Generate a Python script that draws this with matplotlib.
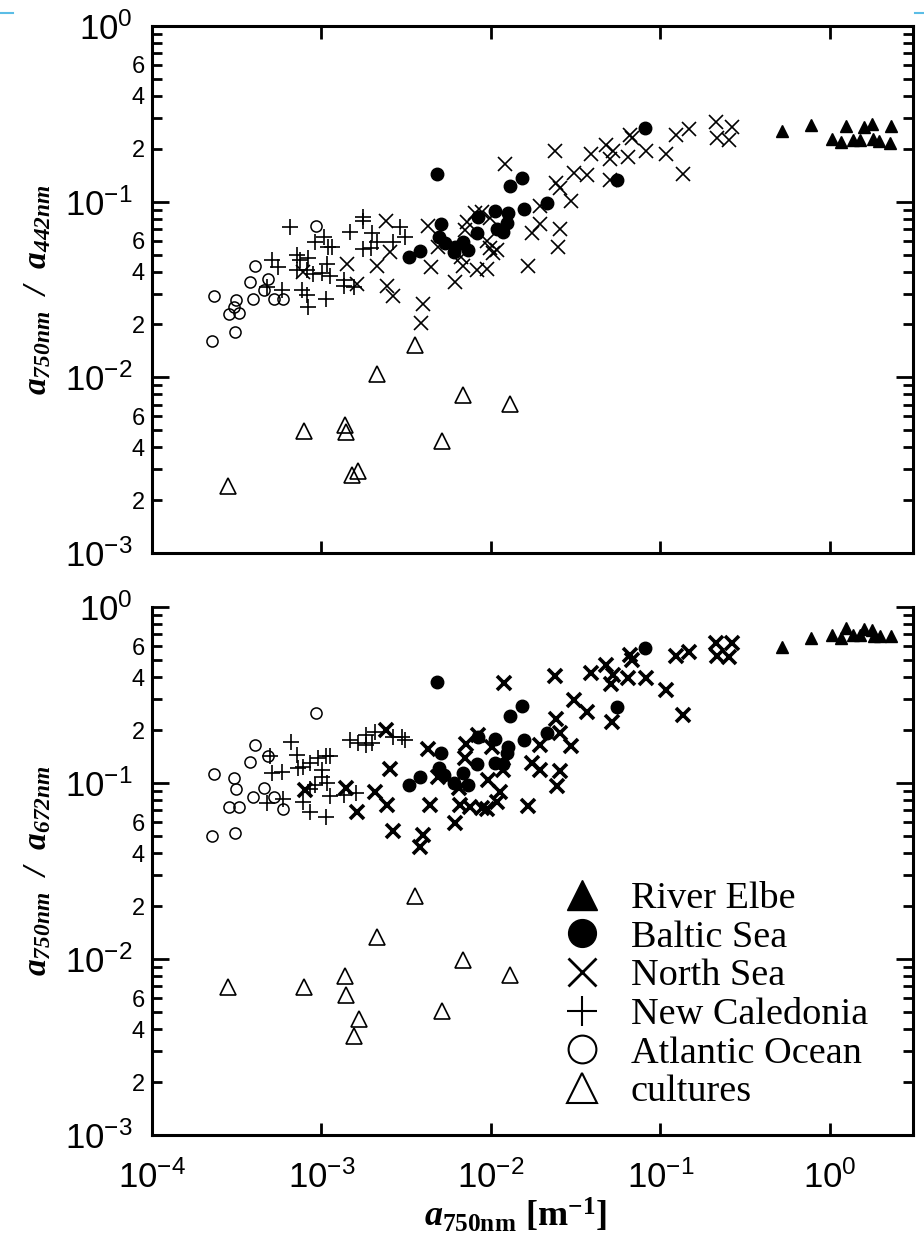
import matplotlib
matplotlib.use('Agg')
import matplotlib.pyplot as plt
from matplotlib.ticker import FixedLocator, FuncFormatter, NullLocator
from matplotlib.lines import Line2D
import numpy as np

plt.rcParams['mathtext.fontset'] = 'custom'
plt.rcParams['mathtext.it'] = 'Liberation Serif:italic:bold'
plt.rcParams['mathtext.rm'] = 'Liberation Serif:bold'
plt.rcParams['mathtext.bf'] = 'Liberation Serif:bold'
plt.rcParams['font.family'] = ['Liberation Sans', 'DejaVu Sans']

# ---------------- data ----------------
labels = ['River Elbe', 'Baltic Sea', 'North Sea', 'New Caledonia', 'Atlantic Ocean', 'cultures']

# top panel: a750/a442
elbe_x_top = [0.52, 0.78, 1.24, 1.59, 1.77, 2.29, 1.03, 1.16, 1.37, 1.50, 1.79, 1.95, 2.26]
elbe_y_top = [0.253, 0.274, 0.270, 0.265, 0.277, 0.270, 0.228, 0.219, 0.225, 0.225, 0.228, 0.222, 0.216]

baltic_x_top = [4.83e-3, 1.29e-2, 1.52e-2, 1.57e-2, 2.14e-2, 1.06e-2, 1.26e-2, 8.44e-3, 1.24e-2, 5.10e-3,
                1.08e-2, 1.18e-2, 8.32e-3, 4.97e-3, 5.39e-3, 6.18e-3, 6.88e-3, 7.36e-3, 6.09e-3, 3.84e-3,
                3.30e-3, 8.1e-2, 5.54e-2]
baltic_y_top = [0.144, 0.122, 0.137, 0.0912, 0.0987, 0.0889, 0.0866, 0.0822, 0.0760, 0.075,
                0.0703, 0.0676, 0.0667, 0.0633, 0.0585, 0.0555, 0.0593, 0.0534, 0.0520, 0.0527,
                0.0487, 0.263, 0.133]

north_x_top = [1.21e-2, 2.39e-2, 3.89e-2, 4.77e-2, 5.24e-2, 5.04e-2, 6.43e-2, 6.61e-2, 6.79e-2, 8.21e-2,
               0.108, 0.123, 0.148, 0.214, 0.266, 0.217, 0.255, 0.137, 3.09e-2, 3.68e-2,
               2.42e-2, 2.55e-2, 2.96e-2, 5.04e-2, 1.95e-2, 1.95e-2, 1.75e-2, 2.55e-2, 2.48e-2, 1.65e-2,
               9.53e-3, 9.93e-3, 1.08e-2, 1.03e-2, 8.91e-3, 8.11e-3, 9.93e-3, 7.27e-3, 7.08e-3, 6.88e-3,
               8.32e-3, 9.53e-3, 2.42e-3, 4.28e-3, 2.55e-3, 4.90e-3, 6.70e-3, 4.46e-3, 6.18e-3, 2.45e-3,
               2.66e-3, 4.0e-3, 3.89e-3, 1.42e-3, 2.14e-3, 1.63e-3, 7.83e-4]
north_y_top = [0.164, 0.195, 0.187, 0.211, 0.195, 0.175, 0.180, 0.240, 0.231, 0.195,
               0.187, 0.240, 0.260, 0.285, 0.267, 0.231, 0.225, 0.144, 0.146, 0.141,
               0.128, 0.120, 0.101, 0.133, 0.0949, 0.075, 0.0667, 0.0703, 0.0555, 0.0428,
               0.060, 0.0548, 0.0534, 0.0507, 0.0877, 0.0866, 0.0811, 0.0769, 0.0693, 0.0428,
               0.0406, 0.0416, 0.078, 0.0731, 0.052, 0.0555, 0.0487, 0.0422, 0.0351, 0.0333,
               0.0292, 0.0263, 0.0205, 0.0439, 0.0428, 0.0338, 0.040]

newcal_x_top = [6.56e-4, 1.03e-3, 9.22e-4, 1.10e-3, 1.16e-3, 1.48e-3, 1.77e-3, 1.77e-3, 2.0e-3, 1.75e-3,
                1.95e-3, 2.14e-3, 2.66e-3, 2.92e-3, 3.13e-3, 5.14e-4, 5.57e-4, 7.22e-4, 7.52e-4, 8.38e-4,
                8.27e-4, 7.22e-4, 8.97e-4, 1.01e-3, 1.08e-3, 1.13e-3, 1.35e-3, 1.35e-3, 1.55e-3, 4.74e-4,
                5.89e-4, 7.73e-4, 8.27e-4, 1.06e-3, 8.38e-4]
newcal_y_top = [0.0721, 0.0633, 0.0593, 0.0555, 0.0555, 0.0676, 0.0822, 0.078, 0.0667, 0.0541,
                0.0548, 0.0593, 0.0593, 0.0721, 0.0633, 0.0468, 0.0422, 0.050, 0.0468, 0.0481,
                0.0411, 0.0411, 0.0385, 0.0395, 0.0439, 0.0375, 0.0360, 0.0329, 0.0325, 0.0325,
                0.0316, 0.0316, 0.0296, 0.0281, 0.0253]

atlantic_x_top = [9.34e-4, 4.08e-4, 3.81e-4, 4.87e-4, 4.61e-4, 2.31e-4, 3.15e-4, 3.97e-4, 5.28e-4, 5.97e-4,
                  3.03e-4, 2.83e-4, 3.28e-4, 3.07e-4, 2.27e-4]
atlantic_y_top = [0.0731, 0.0433, 0.0351, 0.0365, 0.0316, 0.0289, 0.0274, 0.0278, 0.0281, 0.0278,
                  0.025, 0.0228, 0.0231, 0.018, 0.016]

cult_x_top = [2.79e-4, 7.94e-4, 1.37e-3, 1.40e-3, 1.52e-3, 1.65e-3, 2.14e-3, 3.59e-3, 5.17e-3, 6.88e-3, 1.29e-2]
cult_y_top = [2.40e-3, 4.93e-3, 5.33e-3, 4.87e-3, 2.77e-3, 2.92e-3, 1.05e-2, 1.52e-2, 4.33e-3, 7.91e-3, 7.03e-3]

# bottom panel: a750/a672
elbe_x_bot = [0.52, 0.78, 1.03, 1.16, 1.24, 1.37, 1.50, 1.59, 1.77, 1.82, 1.97, 2.29]
elbe_y_bot = [0.59, 0.67, 0.69, 0.67, 0.76, 0.69, 0.69, 0.75, 0.74, 0.68, 0.68, 0.68]

baltic_x_bot = [4.83e-3, 1.29e-2, 1.52e-2, 1.57e-2, 2.14e-2, 8.44e-3, 1.06e-2, 1.26e-2, 5.10e-3, 1.24e-2,
                8.32e-3, 1.06e-2, 1.18e-2, 4.97e-3, 5.3e-3, 3.84e-3, 3.30e-3, 6.88e-3, 6.09e-3, 7.36e-3,
                8.1e-2, 5.54e-2]
baltic_y_bot = [0.375, 0.240, 0.274, 0.175, 0.192, 0.183, 0.178, 0.160, 0.148, 0.148,
                0.128, 0.130, 0.128, 0.122, 0.111, 0.108, 0.0975, 0.114, 0.100, 0.0975,
                0.585, 0.270]

north_x_bot = [1.19e-2, 2.39e-2, 3.89e-2, 4.77e-2, 5.24e-2, 5.10e-2, 6.43e-2, 6.61e-2, 6.79e-2, 8.21e-2,
               0.108, 0.123, 0.148, 0.214, 0.266, 0.217, 0.255, 0.137, 3.09e-2, 3.68e-2,
               2.42e-2, 2.55e-2, 2.96e-2, 5.17e-2, 1.95e-2, 1.75e-2, 1.95e-2, 2.55e-2, 2.45e-2, 1.65e-2,
               7.17e-3, 8.44e-3, 1.01e-2, 7.08e-3, 9.66e-3, 9.53e-3, 7.57e-3, 8.91e-3, 1.08e-2, 1.13e-2,
               1.18e-2, 2.39e-3, 4.28e-3, 2.55e-3, 4.90e-3, 6.52e-3, 6.61e-3, 4.40e-3, 6.18e-3, 2.45e-3,
               2.66e-3, 4.0e-3, 3.84e-3, 1.63e-3, 2.08e-3, 1.40e-3, 8.05e-4]
north_y_bot = [0.370, 0.405, 0.422, 0.468, 0.411, 0.365, 0.395, 0.534, 0.500, 0.395,
               0.338, 0.527, 0.555, 0.624, 0.624, 0.527, 0.520, 0.243, 0.296, 0.253,
               0.231, 0.192, 0.162, 0.222, 0.164, 0.130, 0.119, 0.117, 0.0962, 0.074,
               0.167, 0.187, 0.160, 0.139, 0.104, 0.0711, 0.0731, 0.0721, 0.078, 0.0889,
               0.119, 0.200, 0.156, 0.120, 0.108, 0.0937, 0.075, 0.075, 0.0593, 0.075,
               0.0534, 0.0507, 0.0433, 0.0685, 0.0889, 0.0937, 0.0912]

newcal_x_bot = [6.65e-4, 5.0e-4, 7.22e-4, 1.13e-3, 7.83e-4, 8.61e-4, 9.60e-4, 1.06e-3, 5.14e-4, 5.89e-4,
                1.01e-3, 1.01e-3, 1.08e-3, 9.22e-4, 8.61e-4, 5.97e-4, 4.80e-4, 1.13e-3, 1.35e-3, 1.59e-3,
                7.83e-4, 8.61e-4, 1.06e-3, 1.48e-3, 1.65e-3, 1.82e-3, 1.82e-3, 2.0e-3, 2.08e-3, 2.66e-3,
                3.0e-3, 3.13e-3, 7.31e-4]
newcal_y_bot = [0.171, 0.142, 0.144, 0.142, 0.123, 0.130, 0.139, 0.142, 0.114, 0.115,
                0.119, 0.108, 0.100, 0.0975, 0.0925, 0.0811, 0.0769, 0.0844, 0.0855, 0.0877,
                0.078, 0.0685, 0.0641, 0.175, 0.169, 0.187, 0.164, 0.169, 0.195, 0.183,
                0.183, 0.175, 0.122]

atlantic_x_bot = [9.34e-4, 4.08e-4, 4.87e-4, 3.81e-4, 2.31e-4, 3.03e-4, 3.15e-4, 4.61e-4, 3.97e-4, 5.28e-4,
                  5.97e-4, 2.83e-4, 3.28e-4, 3.07e-4, 2.27e-4]
atlantic_y_bot = [0.250, 0.164, 0.142, 0.132, 0.112, 0.107, 0.0925, 0.0937, 0.0832, 0.0832,
                  0.0711, 0.0731, 0.0731, 0.052, 0.050]

cult_x_bot = [2.79e-4, 7.94e-4, 1.37e-3, 1.40e-3, 1.67e-3, 1.55e-3, 2.14e-3, 3.59e-3, 5.17e-3, 6.88e-3, 1.29e-2]
cult_y_bot = [6.93e-3, 6.93e-3, 8.0e-3, 6.24e-3, 4.56e-3, 3.65e-3, 1.33e-2, 2.28e-2, 5.07e-3, 9.87e-3, 8.11e-3]

x_major = [1e-4, 1e-3, 1e-2, 1e-1, 1e0]
y_major = [1e-3, 1e-2, 1e-1, 1e0]
y_minor = [m * d for d in (1e-3, 1e-2, 1e-1) for m in range(2, 10)]

# ---------------- figure ----------------
W, H = 924, 1240
fig = plt.figure(figsize=(W / 100, H / 100), dpi=100)
ax1 = fig.add_axes([152 / W, 1 - 553 / H, 761 / W, 527 / H])
ax2 = fig.add_axes([152 / W, 1 - 1135 / H, 761 / W, 528 / H])


def major_fmt(v, p):
    return r'$\mathregular{10^{%d}}$' % int(round(np.log10(v)))


def minor_fmt(v, p):
    m = v / 10 ** np.floor(np.log10(v) + 1e-9)
    mi = int(round(m))
    return str(mi) if mi in (2, 4, 6) else ''


def setup(ax, top_panel):
    ax.set_xscale('log')
    ax.set_yscale('log')
    ax.set_xlim(1e-4, 3.1)
    ax.set_ylim(1e-3, 1)
    ax.xaxis.set_major_locator(FixedLocator(x_major))
    ax.xaxis.set_minor_locator(NullLocator())
    ax.xaxis.set_major_formatter(FuncFormatter(major_fmt))
    ax.yaxis.set_major_locator(FixedLocator(y_major))
    ax.yaxis.set_minor_locator(FixedLocator(y_minor))
    ax.yaxis.set_major_formatter(FuncFormatter(major_fmt))
    ax.yaxis.set_minor_formatter(FuncFormatter(minor_fmt))
    for s in ax.spines.values():
        s.set_linewidth(2.2)
    if not top_panel:
        ax.spines['top'].set_visible(False)
    ax.tick_params(axis='x', which='major', direction='in', length=9, width=2,
                   top=top_panel, labelbottom=not top_panel, labelsize=25, pad=18)
    ax.tick_params(axis='y', which='major', direction='in', length=12, width=2,
                   right=True, labelsize=25, pad=14)
    ax.tick_params(axis='y', which='minor', direction='in', length=7, width=2,
                   right=True, labelsize=17, pad=5)


def draw(ax, d):
    (ex, ey), (bx, by), (nx, ny), (cx, cy), (ax_, ay), (tx, ty), nsw = d
    ax.plot(tx, ty, ls='none', marker='^', ms=12, mfc='none', mec='k', mew=1.2)
    ax.plot(ax_, ay, ls='none', marker='o', ms=8, mfc='none', mec='k', mew=1.1)
    ax.plot(cx, cy, ls='none', marker='+', ms=11, mec='k', mew=1.2)
    ax.plot(nx, ny, ls='none', marker='x', ms=9.5, mec='k', mew=nsw)
    ax.plot(bx, by, ls='none', marker='o', ms=9, mfc='k', mec='k')
    ax.plot(ex, ey, ls='none', marker='^', ms=9, mfc='k', mec='k')


setup(ax1, True)
setup(ax2, False)
draw(ax1, [(elbe_x_top, elbe_y_top), (baltic_x_top, baltic_y_top), (north_x_top, north_y_top),
           (newcal_x_top, newcal_y_top), (atlantic_x_top, atlantic_y_top), (cult_x_top, cult_y_top), 1.2])
draw(ax2, [(elbe_x_bot, elbe_y_bot), (baltic_x_bot, baltic_y_bot), (north_x_bot, north_y_bot),
           (newcal_x_bot, newcal_y_bot), (atlantic_x_bot, atlantic_y_bot), (cult_x_bot, cult_y_bot), 2.6])

# axis labels
lab_prop = dict(family='Liberation Serif', weight='bold', style='italic', size=24)
ax1.text(-0.15, 0.5, r'$\mathregular{a_{750nm}}$  /  $\mathregular{a_{442nm}}$', transform=ax1.transAxes,
         rotation=90, ha='center', va='center', **lab_prop)
ax2.text(-0.15, 0.5, r'$\mathregular{a_{750nm}}$  /  $\mathregular{a_{672nm}}$', transform=ax2.transAxes,
         rotation=90, ha='center', va='center', **lab_prop)
ax2.text(0.478, -0.117, r'$\mathit{a}_{\mathregular{750nm}}\mathregular{\ [m^{-1}]}$', transform=ax2.transAxes,
         ha='center', va='top', family='Liberation Serif', weight='bold', size=26)

# legend
handles = [
    Line2D([], [], ls='none', marker='^', ms=22, mfc='k', mec='k'),
    Line2D([], [], ls='none', marker='o', ms=20, mfc='k', mec='k'),
    Line2D([], [], ls='none', marker='x', ms=20, mec='k', mew=2),
    Line2D([], [], ls='none', marker='+', ms=22, mec='k', mew=1.5),
    Line2D([], [], ls='none', marker='o', ms=20, mfc='none', mec='k', mew=1.5),
    Line2D([], [], ls='none', marker='^', ms=22, mfc='none', mec='k', mew=1.5),
]
ax2.legend(handles, labels, loc='upper left', bbox_to_anchor=(0.531, 0.48), frameon=False,
           prop={'family': 'Liberation Serif', 'size': 27.5}, handlelength=1.35, handletextpad=0.6,
           labelspacing=0.1, borderpad=0, borderaxespad=0)

# small slide artefacts (light blue dashes at top corners)
fig.add_artist(Line2D([0, 13 / W], [1 - 13 / H, 1 - 13 / H], transform=fig.transFigure,
                      color='#5bbde6', lw=1.5))
fig.add_artist(Line2D([915 / W, 1], [1 - 13 / H, 1 - 13 / H], transform=fig.transFigure,
                      color='#5bbde6', lw=1.5))

fig.savefig('out.png', dpi=100, facecolor='white')
